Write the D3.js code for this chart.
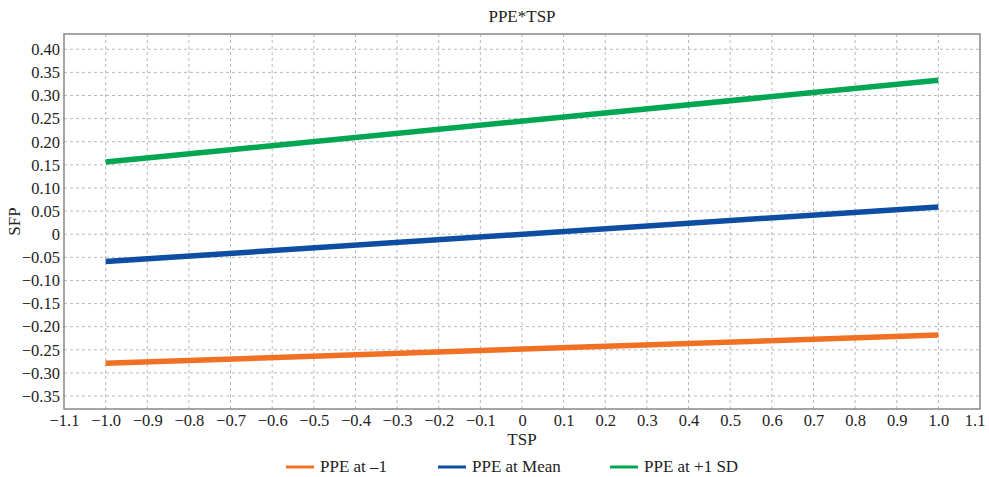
<!DOCTYPE html>
<html>
<head>
<meta charset="utf-8">
<script src="https://cdn.jsdelivr.net/npm/d3@7"></script>
<style>
  body { margin: 0; background: #fff; }
  text { font-family: "Liberation Serif", "DejaVu Serif", serif; fill: #222; }
</style>
</head>
<body>
<svg id="chart" width="989" height="477"></svg>
<script>
// data
var seriesNames = ["PPE at \u20131", "PPE at Mean", "PPE at +1 SD"];
var seriesColors = ["#f07124", "#0d4ea3", "#00a651"];
var tspValues = [-1.0, 1.0];
var lowValues = [-0.279, -0.218];
var meanValues = [-0.059, 0.059];
var highValues = [0.156, 0.333];
var xTicks = d3.range(-11, 12).map(function(d){ return d / 10; });
var yTicks = d3.range(-7, 9).map(function(d){ return d * 0.05; });

var series = [lowValues, meanValues, highValues].map(function(vals, i){
  return { name: seriesNames[i], color: seriesColors[i],
    points: tspValues.map(function(x, j){ return { x: x, y: vals[j] }; }) };
});

var svg = d3.select("#chart");
var m = { left: 64, top: 34, right: 9, bottom: 68 };
var w = 989 - m.left - m.right, h = 477 - m.top - m.bottom;

var x = d3.scaleLinear().domain([-1.1, 1.1]).range([0, w]);
var y = d3.scaleLinear().domain([-0.378, 0.433]).range([h, 0]);

var g = svg.append("g").attr("transform", "translate(" + m.left + "," + m.top + ")");

function fmt(v){
  var s = Math.abs(v) < 1e-9 ? "0" : d3.format(".2f")(v);
  return s.replace("-", "\u2013");
}
function fmtX(v){
  var s = Math.abs(v) < 1e-9 ? "0" : d3.format(".1f")(v);
  return s.replace("-", "\u2013");
}

// grid
g.append("g").selectAll("line").data(xTicks.slice(1, -1)).enter().append("line")
  .attr("x1", function(d){ return x(d); }).attr("x2", function(d){ return x(d); })
  .attr("y1", 0).attr("y2", h)
  .attr("stroke", "#b8b8b8").attr("stroke-dasharray", "3,3");
g.append("g").selectAll("line").data(yTicks).enter().append("line")
  .attr("y1", function(d){ return y(d); }).attr("y2", function(d){ return y(d); })
  .attr("x1", 0).attr("x2", w)
  .attr("stroke", "#b8b8b8").attr("stroke-dasharray", "3,3");

// axes
var xAxis = g.append("g").attr("transform", "translate(0," + h + ")")
  .call(d3.axisBottom(x).tickValues(xTicks).tickFormat(fmtX).tickSize(0).tickPadding(5));
var yAxis = g.append("g")
  .call(d3.axisLeft(y).tickValues(yTicks).tickFormat(fmt).tickSize(0).tickPadding(4));
[xAxis, yAxis].forEach(function(a){
  a.select(".domain").remove();
  a.selectAll("text").style("font-family", "Liberation Serif, serif").style("font-size", "16.5px").attr("fill", "#222");
});
// keep the last x label inside the window
xAxis.selectAll(".tick").filter(function(d){ return d > 1.05; })
  .select("text").attr("text-anchor", "end").attr("dx", "0.3em");

// frame
g.append("rect").attr("width", w).attr("height", h)
  .attr("fill", "none").attr("stroke", "#888").attr("stroke-width", 1.5);

// lines
var line = d3.line().x(function(d){ return x(d.x); }).y(function(d){ return y(d.y); });
g.selectAll(".series").data(series).enter().append("path")
  .attr("class", "series")
  .attr("d", function(d){ return line(d.points); })
  .attr("fill", "none")
  .attr("stroke", function(d){ return d.color; })
  .attr("stroke-width", 5.5);

// titles
svg.append("text").attr("x", m.left + w / 2).attr("y", 22)
  .attr("text-anchor", "middle").style("font-size", "17px").text("PPE*TSP");
svg.append("text").attr("x", m.left + w / 2).attr("y", 445)
  .attr("text-anchor", "middle").style("font-size", "17px").text("TSP");
svg.append("text").attr("transform", "translate(20," + (m.top + h / 2) + ") rotate(-90)")
  .attr("text-anchor", "middle").style("font-size", "17px").text("SFP");

// legend
var legendX = [286, 438, 610];
var lg = svg.append("g").selectAll("g").data(series).enter().append("g")
  .attr("transform", function(d, i){ return "translate(" + legendX[i] + ",467)"; });
lg.append("line").attr("x1", 0).attr("x2", 28).attr("y1", 0).attr("y2", 0)
  .attr("stroke", function(d){ return d.color; }).attr("stroke-width", 3);
lg.append("text").attr("x", 34).attr("y", 5).style("font-size", "17px")
  .text(function(d){ return d.name; });
</script>
</body>
</html>
